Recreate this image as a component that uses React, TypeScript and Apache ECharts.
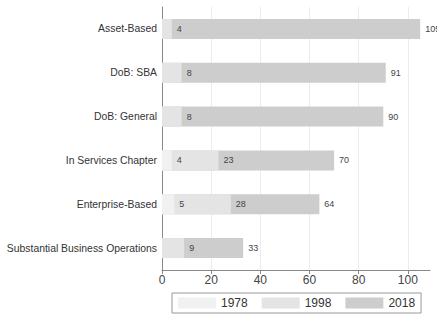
import React, { useEffect, useRef } from "react";
import * as echarts from "echarts";

const categories = [
  "Asset-Based",
  "DoB: SBA",
  "DoB: General",
  "In Services Chapter",
  "Enterprise-Based",
  "Substantial Business Operations",
];
const values1978: (number | null)[] = [null, null, null, 4, 5, null];
const values1998: (number | null)[] = [4, 8, 8, 23, 28, 9];
const values2018: number[] = [105, 91, 90, 70, 64, 33];
const xTicks = [0, 20, 40, 60, 80, 100];

const FONT = "Liberation Sans, Arial, sans-serif";

export default function App() {
  const ref = useRef<HTMLDivElement>(null);
  useEffect(() => {
    if (!ref.current) return;
    const chart = echarts.init(ref.current, undefined, { renderer: "svg" });
    const label = {
      show: true,
      position: "right" as const,
      distance: 5,
      fontSize: 9,
      color: "#444",
      fontFamily: FONT,
    };
    chart.setOption({
      animation: false,
      textStyle: { fontFamily: FONT },
      grid: { left: 162, right: 7, top: 7, bottom: 45 },
      xAxis: {
        type: "value",
        min: 0,
        max: 109,
        interval: 20,
        axisLine: { show: true, lineStyle: { color: "#888" } },
        axisTick: {
          show: true,
          length: 4,
          customValues: xTicks,
          lineStyle: { color: "#888" },
        },
        axisLabel: {
          fontSize: 12,
          color: "#444",
          fontFamily: FONT,
          margin: 4,
          customValues: xTicks,
          formatter: (v: number) => (xTicks.includes(v) ? String(v) : ""),
        },
        splitLine: { show: true, lineStyle: { color: "#ececec" } },
      },
      yAxis: {
        type: "category",
        data: categories,
        inverse: true,
        axisLine: { show: true, lineStyle: { color: "#888" } },
        axisTick: { show: false },
        axisLabel: { fontSize: 10.4, color: "#333", fontFamily: FONT, margin: 5 },
      },
      legend: {
        data: ["1978", "1998", "2018"],
        top: 293,
        left: 172,
        itemWidth: 38,
        itemHeight: 11,
        itemGap: 14,
        padding: [4, 6],
        borderColor: "#999",
        borderWidth: 1,
        borderRadius: 0,
        textStyle: { fontSize: 12, color: "#333", fontFamily: FONT },
        icon: "rect",
      },
      series: [
        {
          name: "2018",
          type: "bar",
          data: values2018,
          barWidth: 20,
          barGap: "-100%",
          itemStyle: { color: "#cdcdcd" },
          label,
        },
        {
          name: "1998",
          type: "bar",
          data: values1998,
          barWidth: 20,
          barGap: "-100%",
          itemStyle: { color: "#e4e4e4" },
          label,
        },
        {
          name: "1978",
          type: "bar",
          data: values1978,
          barWidth: 20,
          barGap: "-100%",
          itemStyle: { color: "#f1f1f1" },
          label,
        },
      ],
    });
    return () => chart.dispose();
  }, []);
  return (
    <div
      ref={ref}
      style={{ position: "absolute", left: 0, top: 0, width: 437, height: 315 }}
    />
  );
}
